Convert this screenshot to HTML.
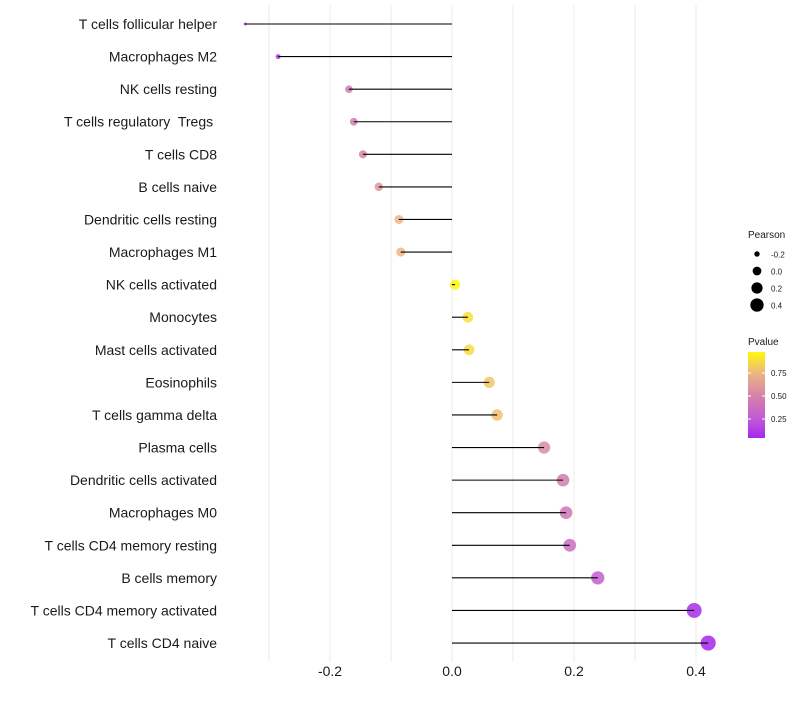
<!DOCTYPE html>
<html><head><meta charset="utf-8"><style>
body{margin:0;background:#fff}
svg text{font-family:"Liberation Sans",Arial,sans-serif;white-space:pre}
</style></head><body>
<svg id="chart" width="800" height="700">
<g id="grid"></g><g id="marks"></g><g id="labels"></g><g id="legend"></g>
</svg>
<script>
const categories=["T cells follicular helper","Macrophages M2","NK cells resting","T cells regulatory  Tregs ","T cells CD8","B cells naive","Dendritic cells resting","Macrophages M1","NK cells activated","Monocytes","Mast cells activated","Eosinophils","T cells gamma delta","Plasma cells","Dendritic cells activated","Macrophages M0","T cells CD4 memory resting","B cells memory","T cells CD4 memory activated","T cells CD4 naive"];
const pearson=[-0.339,-0.285,-0.169,-0.161,-0.146,-0.120,-0.087,-0.084,0.005,0.026,0.028,0.061,0.074,0.151,0.182,0.187,0.193,0.239,0.397,0.420];
const pvalues=[0.05,0.1,0.45,0.45,0.5,0.6,0.75,0.75,0.97,0.9,0.88,0.8,0.78,0.55,0.45,0.42,0.38,0.28,0.06,0.03];
const xTicks=[-0.2,0.0,0.2,0.4];
const xTickLabels=["-0.2","0.0","0.2","0.4"];
const sizeLegend=[-0.2,0.0,0.2,0.4];
const pLegendTicks=[0.25,0.5,0.75];

const NS="http://www.w3.org/2000/svg";
const X=v=>452+v*610;
const Y=i=>24+i*32.58;
const R=v=>Math.sqrt(Math.max(2,(v+0.37)*72));
const stops=[[0,[160,32,240]],[0.25,[192,90,214]],[0.5,[214,130,168]],[0.75,[238,182,128]],[1,[255,255,0]]];
function col(p){p=Math.max(0,Math.min(1,p));for(let k=1;k<stops.length;k++){if(p<=stops[k][0]){const a=stops[k-1],b=stops[k];const t=(p-a[0])/(b[0]-a[0]);const c=a[1].map((v,j)=>Math.round(v+(b[1][j]-v)*t));return `rgb(${c})`;}}}
function mk(tag,attrs,parent){const e=document.createElementNS(NS,tag);for(const k in attrs)e.setAttribute(k,attrs[k]);parent.appendChild(e);return e;}
const grid=document.getElementById('grid'),marks=document.getElementById('marks'),labels=document.getElementById('labels'),legend=document.getElementById('legend');
for(let v=-0.3;v<=0.41;v+=0.1){const l=mk('line',{x1:X(v),x2:X(v),y1:5,y2:662,stroke:'#ebebeb','stroke-width':1},grid);

}
categories.forEach((c,i)=>{
 const t=mk('text',{x:217,y:Y(i)+5,'text-anchor':'end','font-size':14,fill:'#1a1a1a'},labels);t.textContent=c;
 
 
 const p=mk('circle',{cx:X(pearson[i]),cy:Y(i),r:R(pearson[i]),fill:col(pvalues[i]),'fill-opacity':0.85},marks);
 
 
 const s=mk('line',{x1:X(0),x2:X(pearson[i]),y1:Y(i),y2:Y(i),stroke:'#000','stroke-width':1.1},marks);
 
 
});
xTicks.forEach((v,i)=>{const t=mk('text',{x:X(v),y:676,'text-anchor':'middle','font-size':14,fill:'#1a1a1a'},labels);t.textContent=xTickLabels[i];
 
 });
let t=mk('text',{x:748,y:238,'font-size':10,fill:'#1a1a1a'},legend);t.textContent='Pearson';


sizeLegend.forEach((v,i)=>{const y=254+i*17;const c=mk('circle',{cx:757,cy:y,r:R(v)-0.8,fill:'#000'},legend);
 
 
 const tt=mk('text',{x:771,y:y+3.5,'font-size':8,fill:'#1a1a1a'},legend);tt.textContent=v.toFixed(1);
 
 });
t=mk('text',{x:748,y:345,'font-size':10,fill:'#1a1a1a'},legend);t.textContent='Pvalue';


const defs=mk('defs',{},legend);const g=mk('linearGradient',{id:'pg',x1:0,y1:1,x2:0,y2:0},defs);
[0.04,0.25,0.5,0.75,0.98].forEach(p=>mk('stop',{offset:(p-0.04)/0.94,'stop-color':col(p)},g));
const bar=mk('rect',{x:748,y:352,width:17,height:86,fill:'url(#pg)'},legend);


pLegendTicks.forEach(p=>{const y=396-(p-0.5)*92;mk('line',{x1:748,x2:751,y1:y,y2:y,stroke:'#fff'},legend);mk('line',{x1:762,x2:765,y1:y,y2:y,stroke:'#fff'},legend);
 const tt=mk('text',{x:771,y:y+3,'font-size':8,fill:'#1a1a1a'},legend);tt.textContent=p.toFixed(2);
 
 });
</script>
</body></html>
